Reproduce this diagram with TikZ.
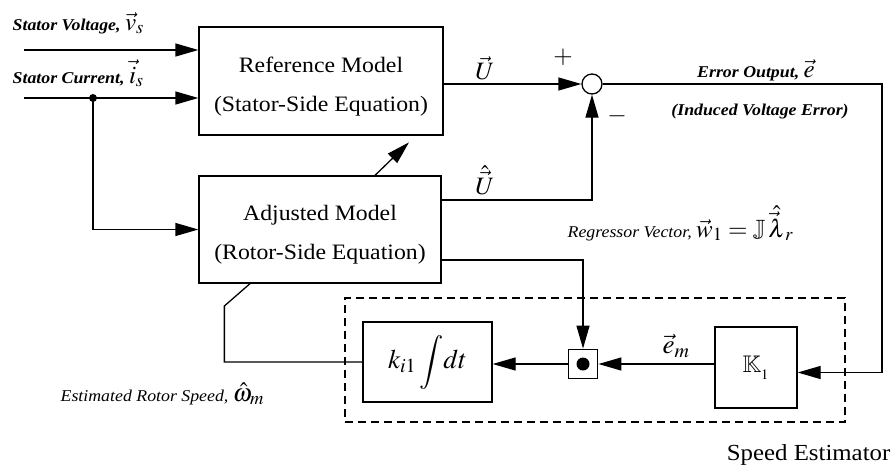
\documentclass[tikz,border=0pt]{standalone}
\usepackage{amssymb}
\usepackage{mathptmx}
\usepackage[no-math]{fontspec}
\setmainfont[FakeStretch=1.08]{Liberation Serif}
\usetikzlibrary{positioning,arrows.meta}

\tikzset{
  block/.style={draw, line width=1.3pt, align=center, font=\fontsize{22}{39}\selectfont},
  lbl/.style={font=\fontsize{16.5}{20}\selectfont\bfseries\itshape, inner sep=0pt},
  lblr/.style={font=\fontsize{16.5}{20}\selectfont\itshape, inner sep=0pt},
  sym/.style={font=\fontsize{25}{30}\selectfont, inner sep=0pt},
}
\newcommand{\symmath}[1]{{\fontsize{25}{30}\selectfont$#1$}}

\begin{document}
\begin{tikzpicture}[x=1pt,y=-1pt, line width=1.3pt, >={Triangle[length=23pt,width=13pt]}]
  \useasboundingbox (0,0) rectangle (893,466);

  % model blocks
  \node[block, minimum width=244, minimum height=108] (ref) at (321,81) {\rule{0pt}{27pt}Reference Model\\(Stator-Side Equation)};
  \node[block, minimum width=242, minimum height=107] (adj) at (320,229.5) {\rule{0pt}{25pt}Adjusted Model\\(Rotor-Side Equation)};
  \node[draw, circle, fill=white, minimum size=20, inner sep=0pt] (sum) at (592,84) {};

  % speed estimator
  \node[draw, line width=1.2pt, dash pattern=on 8pt off 5pt, minimum width=500, minimum height=124] (est) at (595,360) {};
  \node[block, minimum width=82, minimum height=81, font=\fontsize{24}{28}\selectfont] (gain) at (756,367.5) {$\mathbb{K}_{{}_1}$};
  \node[draw, line width=1.8pt, minimum size=29, inner sep=0pt] (prod) at (583,364) {};
  \fill (prod) circle (6.5pt);
  \node[block, minimum width=129, minimum height=80, font=\fontsize{27}{30}\selectfont] (integ) at (427.5,362) {$k_{i1}\displaystyle\int\! dt$};
  \node[font=\fontsize{23}{27}\selectfont, inner sep=0pt, anchor=base east] (estname) at (891,460) {Speed Estimator};

  % inputs
  \coordinate (vin) at (24,50);
  \coordinate (iin) at (24,98);
  \coordinate (jct) at (93,98);
  \node[lbl, anchor=base west] (vlbl) at (12,30) {Stator Voltage, \symmath{\vec{v}_s}};
  \node[lbl, anchor=base west] (ilbl) at (12,83) {Stator Current, \symmath{\vec{i}_s}};
  \draw[->] (vin) -- (vin -| ref.west);
  \draw[->] (iin) -- (iin -| ref.west);
  \fill (jct) circle (4pt);
  \draw[->] (jct) |- (adj.west);
  \draw[->] ([xshift=55pt]adj.north) -- ++(34,-33);

  % error signal
  \node[sym] (u) at (485,68) {$\vec{U}$};
  \node[sym] (uh) at (485,180) {$\hat{\vec{U}}$};
  \node[sym] (plus) at (563,57) {$+$};
  \node[sym] (minus) at (617,116) {$-$};
  \draw[->] (ref.east |- sum) -- (sum.west);
  \draw[->] ([yshift=29.5pt]adj.east) -| (sum.south);
  \coordinate (ecorner) at (882,84);
  \draw[->] (sum.east) -- (ecorner) |- ([yshift=-5pt]gain.east);
  \node[lbl, anchor=base] (elbl) at (756,77) {Error Output, \symmath{\vec{e}}};
  \node[lbl, anchor=base] (elbl2) at (760,115) {(Induced Voltage Error)};

  % regressor
  \node[lblr, anchor=base west] (wlbl) at (567,237) {Regressor Vector, \symmath{\vec{w}_1=\mathbb{J}\,\hat{\vec{\lambda}}_r}};
  \draw[->] ([yshift=-30.5pt]adj.east) -| (prod.north);

  % estimator loop
  \node[sym, font=\fontsize{27}{30}\selectfont] (em) at (676,346) {$\vec{e}_m$};
  \draw[->] (gain.west |- prod) -- (prod.east);
  \draw[->] (prod.west) -- (prod.west -| integ.east);
  \draw (integ.west) -- ++(-138,0) coordinate (fb) -- ++(0,-56) -- ([xshift=-70pt]adj.south);
  \node[lblr, anchor=base west] (wmlbl) at (60,401) {Estimated Rotor Speed, \symmath{\hat{\omega}_m}};
\end{tikzpicture}
\end{document}
